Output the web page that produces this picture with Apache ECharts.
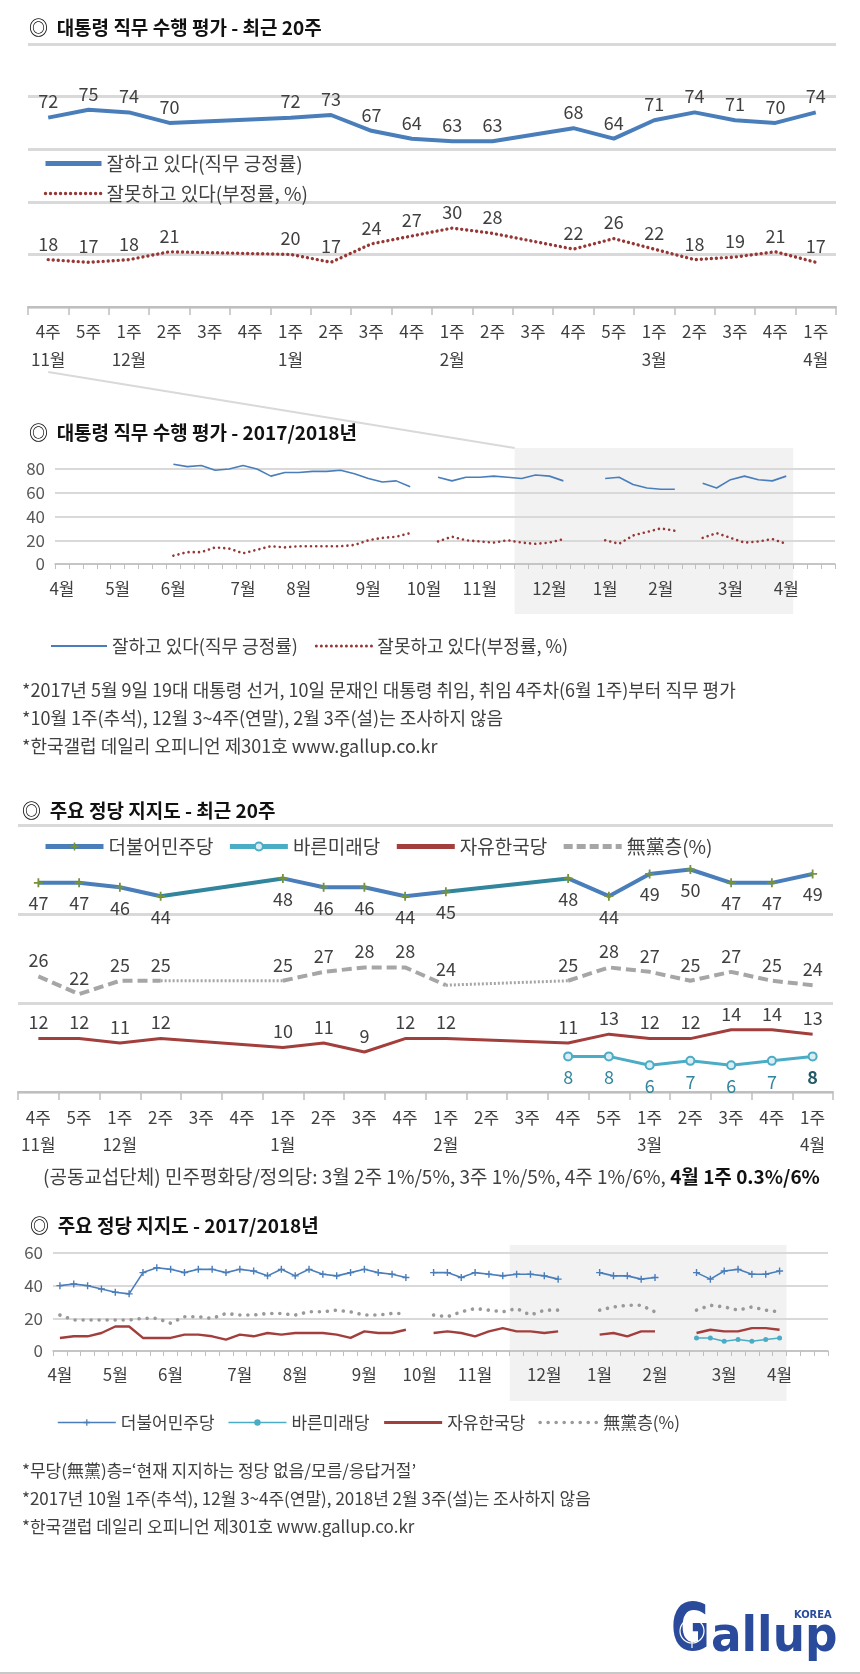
<!DOCTYPE html>
<html><head><meta charset="utf-8">
<script src="https://cdn.jsdelivr.net/npm/echarts@6/dist/echarts.min.js"></script>
<style>html,body{margin:0;padding:0;background:#fff}#c{width:860px;height:1674px}</style>
</head><body><div id="c"></div>
<script>
const N = null;
// ---------- recent 20 weeks (charts 1 & 3) ----------
const recentWeeks  = ['4주','5주','1주','2주','3주','4주','1주','2주','3주','4주','1주','2주','3주','4주','5주','1주','2주','3주','4주','1주'];
const recentMonths = ['11월','','12월','','','','1월','','','','2월','','','','','3월','','','','4월'];
const approveRecent    = [72,75,74,70,N,N,72,73,67,64,63,63,N,68,64,71,74,71,70,74];
const disapproveRecent = [18,17,18,21,N,N,20,17,24,27,30,28,N,22,26,22,18,19,21,17];
const minjuRecent   = [47,47,46,44,N,N,48,46,46,44,45,N,N,48,44,49,50,47,47,49];
const bareunRecent  = [N,N,N,N,N,N,N,N,N,N,N,N,N,8,8,6,7,6,7,8];
const jayuRecent    = [12,12,11,12,N,N,10,11,9,12,12,N,N,11,13,12,12,14,14,13];
const noPartyRecent = [26,22,25,25,N,N,25,27,28,28,24,N,N,25,28,27,25,27,25,24];

// ---------- 2017/2018 weekly (charts 2 & 4) ----------
const longMonths = ['4월','5월','6월','7월','8월','9월','10월','11월','12월','1월','2월','3월','4월'];
const longWeeksPerMonth = [4,4,5,4,5,4,4,5,4,4,5,4,4];
const approveLong = [N,N,N,N,N,N,N,N, 84,82,83,79,80,83,80,74,77,77,78,78,79,76,72,69,70,65, N,
  73,70,73,73,74,73,72,75,74,70, N,N, 72,73,67,64,63,63, N, 68,64,71,74,71,70,74, N,N,N];
const disapproveLong = [N,N,N,N,N,N,N,N, 7,10,10,14,13,9,12,15,14,15,15,15,15,16,20,22,23,26, N,
  19,23,20,19,18,20,18,17,18,21, N,N, 20,17,24,27,30,28, N, 22,26,22,18,19,21,17, N,N,N];
const minjuLong = [40,41,40,38,36,35,48,51,50,48,50,50,48,50,49,46,50,46,50,47,46,48,50,48,47,45, N,
  48,48,45,48,47,46,47,47,46,44, N,N, 48,46,46,44,45, N,N, 48,44,49,50,47,47,49, N,N,N];
const jayuLong = [8,9,9,11,15,15,8,8,8,10,10,9,7,10,9,11,10,11,11,11,10,8,12,11,11,13, N,
  11,12,11,9,12,14,12,12,11,12, N,N, 10,11,9,12,12, N,N, 11,13,12,12,14,14,13, N,N,N];
const noPartyLong = [22,19,19,19,19,19,20,20,17,21,21,20,23,22,22,23,23,22,24,24,25,24,22,22,23,23, N,
  22,21,24,26,25,24,26,22,25,25, N,N, 25,27,28,28,24, N,N, 25,28,27,25,27,25,24, N,N,N];
const bareunLong = [N,N,N,N,N,N,N,N,N,N,N,N,N,N,N,N,N,N,N,N,N,N,N,N,N,N,N,N,N,N,N,N,N,N,N,N,N,N,N,N,N,N,N,N,N,N,
  8,8,6,7,6,7,8, N,N,N];

const NAME_A = '잘하고 있다(직무 긍정률)', NAME_D = '잘못하고 있다(부정률, %)';
const NAME_M = '더불어민주당', NAME_B = '바른미래당', NAME_J = '자유한국당', NAME_U = '無黨층(%)';

const FONT = '"Noto Sans CJK KR","Noto Sans",sans-serif';
const LOGOFONT = '"DejaVu Sans Condensed","DejaVu Sans",sans-serif';
const TXT = '#404040';
const BLUE = '#4a7ebb', RED = '#953735', TEAL = '#4bacc6', DRED = '#a23e3c', GRAY = '#a6a6a6';
const LOGO = '#2a4a9b';
const PLUS = 'path://M4,0H6V4H10V6H6V10H4V6H0V4H4Z';

const recentCats = recentWeeks.map((w, i) => i + ':' + recentMonths[i] + w);
const longCats = [], longLabel = [];
longMonths.forEach((m, mi) => {
  for (let w = 1; w <= longWeeksPerMonth[mi]; w++) {
    longCats.push((mi < 9 ? '2017 ' : '2018 ') + m + ' ' + w + '주');
    longLabel.push(w === 1 ? m : '');
  }
});

function gapSeries(arr, base) {
  const out = [];
  let i = 0;
  while (i < arr.length) {
    if (arr[i] == null) {
      const s = i;
      while (i < arr.length && arr[i] == null) i++;
      if (s > 0 && i < arr.length) {
        const d = arr.map((v, k) => (k === s - 1 || k === i) ? v : null);
        out.push(Object.assign({ type: 'line', data: d, connectNulls: true, symbol: 'none', silent: true, z: 1 }, base));
      }
    } else i++;
  }
  return out;
}

const lbl = (pos, extra) => Object.assign({ show: true, position: pos, distance: 6, color: TXT, fontSize: 18 }, extra || {});
const hidden = { symbol: 'circle', symbolSize: 2, itemStyle: { color: 'rgba(0,0,0,0)' } };

const recentAxis = (grid, margin, lh) => ({
  type: 'category', gridIndex: grid, data: recentCats, boundaryGap: true,
  axisLine: { lineStyle: { color: '#bfbfbf', width: 2 } },
  axisTick: { show: true, interval: 0, length: 8, alignWithLabel: false, lineStyle: { color: '#bfbfbf', width: 1.5 } },
  axisLabel: { interval: 0, margin: margin, lineHeight: lh, fontSize: 17, color: TXT, hideOverlap: false,
    formatter: (v, i) => recentWeeks[i] + '\n' + (recentMonths[i] || ' ') },
  splitLine: { show: false }
});
const longAxis = (grid, margin) => ({
  type: 'category', gridIndex: grid, data: longCats, boundaryGap: true,
  axisLine: { lineStyle: { color: '#bfbfbf', width: 1.5 } },
  axisTick: { show: true, interval: 0, length: 5, alignWithLabel: false, lineStyle: { color: '#bfbfbf', width: 1 } },
  axisLabel: { interval: (i) => longLabel[i] !== '', margin: margin, fontSize: 17, color: TXT, hideOverlap: false,
    formatter: (v, i) => longLabel[i] },
  splitLine: { show: false }
});
const valAxis = (grid, max, show, w) => ({
  type: 'value', gridIndex: grid, min: 0, max: max, interval: 20,
  axisLine: { show: false }, axisTick: { show: false },
  axisLabel: { show: show, fontSize: 17, color: '#595959', margin: 10 },
  splitLine: { show: true, lineStyle: { color: '#d9d9d9', width: w } }
});

const series = [
  // chart 1
  Object.assign({ type: 'line', name: NAME_A, xAxisIndex: 0, yAxisIndex: 0, data: approveRecent, connectNulls: true,
    lineStyle: { color: BLUE, width: 4 }, label: lbl('top'), z: 3 }, hidden),
  Object.assign({ type: 'line', name: NAME_D, xAxisIndex: 0, yAxisIndex: 0, data: disapproveRecent, connectNulls: true,
    lineStyle: { color: RED, width: 3.4, type: [0.01, 5], cap: 'round' }, label: lbl('top'), z: 3 }, hidden),
  // chart 2
  { type: 'line', name: NAME_A, xAxisIndex: 1, yAxisIndex: 1, data: approveLong, connectNulls: false, symbol: 'none', clip: false,
    lineStyle: { color: BLUE, width: 1.6 } },
  { type: 'line', name: NAME_D, xAxisIndex: 1, yAxisIndex: 1, data: disapproveLong, connectNulls: false, symbol: 'none', clip: false,
    lineStyle: { color: RED, width: 2.6, type: [0.01, 5.2], cap: 'round' } },
  // chart 3
  { type: 'line', name: NAME_M, xAxisIndex: 2, yAxisIndex: 2, data: minjuRecent, connectNulls: false,
    symbol: PLUS, symbolSize: 9, itemStyle: { color: '#77933c' },
    lineStyle: { color: BLUE, width: 4 }, label: lbl('bottom', { distance: 7 }), z: 4 },
  { type: 'line', name: NAME_B, xAxisIndex: 2, yAxisIndex: 2,
    data: bareunRecent.map((v, i) => i === bareunRecent.length - 1 ? { value: v, label: { fontWeight: 'bold', color: '#215968' } } : v),
    connectNulls: false, symbol: 'circle', symbolSize: 8,
    itemStyle: { color: '#dbeef4', borderColor: TEAL, borderWidth: 2 },
    lineStyle: { color: TEAL, width: 3 }, label: lbl('bottom', { distance: 7, color: '#31859c' }), z: 4 },
  Object.assign({ type: 'line', name: NAME_J, xAxisIndex: 2, yAxisIndex: 2, data: jayuRecent, connectNulls: true,
    lineStyle: { color: DRED, width: 3 }, label: lbl('top'), z: 3 }, hidden),
  Object.assign({ type: 'line', name: NAME_U, xAxisIndex: 2, yAxisIndex: 2, data: noPartyRecent, connectNulls: false,
    lineStyle: { color: GRAY, width: 4, type: [10, 5] }, label: lbl('top'), z: 3 }, hidden),
  ...gapSeries(minjuRecent, { name: NAME_M, xAxisIndex: 2, yAxisIndex: 2, lineStyle: { color: '#31859c', width: 4 } }),
  ...gapSeries(noPartyRecent, { name: NAME_U, xAxisIndex: 2, yAxisIndex: 2, lineStyle: { color: GRAY, width: 3, type: [2, 2] } }),
  // chart 4
  { type: 'line', name: NAME_M, xAxisIndex: 3, yAxisIndex: 3, data: minjuLong, connectNulls: false,
    symbol: PLUS, symbolSize: 7, itemStyle: { color: BLUE }, lineStyle: { color: BLUE, width: 1.6 }, z: 4 },
  { type: 'line', name: NAME_B, xAxisIndex: 3, yAxisIndex: 3, data: bareunLong, connectNulls: false,
    symbol: 'circle', symbolSize: 5, itemStyle: { color: TEAL }, lineStyle: { color: TEAL, width: 1.6 }, z: 4 },
  { type: 'line', name: NAME_J, xAxisIndex: 3, yAxisIndex: 3, data: jayuLong, connectNulls: false,
    symbol: 'none', lineStyle: { color: DRED, width: 2.4 } },
  { type: 'line', name: NAME_U, xAxisIndex: 3, yAxisIndex: 3, data: noPartyLong, connectNulls: false,
    symbol: 'none', lineStyle: { color: '#999999', width: 3.6, type: [0.01, 8], cap: 'round' } }
];

const titleStyle = { fontSize: 19, fontWeight: 'bold', color: '#111' };
const note = (id, x, y, text, size) => ({ type: 'text', id: id, x: x, y: y, z: 10,
  style: { text: text, verticalAlign: 'middle', fontSize: size, fill: TXT, fontFamily: FONT } });

const option = {
  animation: false,
  backgroundColor: '#fff',
  textStyle: { fontFamily: FONT },
  title: [
    { text: '◎  대통령 직무 수행 평가 - 최근 20주', left: 24, top: 13, textStyle: titleStyle },
    { text: '◎  대통령 직무 수행 평가 - 2017/2018년', left: 24, top: 418, textStyle: titleStyle },
    { text: '◎  주요 정당 지지도 - 최근 20주', left: 17, top: 796, textStyle: titleStyle },
    { text: '◎  주요 정당 지지도 - 2017/2018년', left: 25, top: 1211, textStyle: titleStyle }
  ],
  legend: [
    { orient: 'vertical', left: 38, top: 149, itemWidth: 56, itemHeight: 10, itemGap: 11,
      textStyle: { fontSize: 19, color: TXT },
      data: [{ name: NAME_A, lineStyle: { width: 5, color: BLUE } },
             { name: NAME_D, lineStyle: { width: 3.4, color: RED, type: [0.01, 5], cap: 'round' } }] },
    { orient: 'horizontal', left: 45, top: 632, itemWidth: 56, itemHeight: 10, itemGap: 17,
      textStyle: { fontSize: 18, color: TXT },
      data: [{ name: NAME_A, lineStyle: { width: 2, color: BLUE } },
             { name: NAME_D, lineStyle: { width: 3, color: RED, type: [0.01, 5], cap: 'round' } }] },
    { orient: 'horizontal', left: 38, top: 832, itemWidth: 58, itemHeight: 10, itemGap: 14,
      textStyle: { fontSize: 19, color: TXT },
      data: [{ name: NAME_M, lineStyle: { width: 5, color: BLUE } },
             { name: NAME_B, lineStyle: { width: 5, color: TEAL } },
             { name: NAME_J, lineStyle: { width: 5, color: DRED } },
             { name: NAME_U, lineStyle: { width: 5, color: GRAY, type: [9, 4] } }] },
    { orient: 'horizontal', left: 52, top: 1409, itemWidth: 58, itemHeight: 8, itemGap: 13,
      textStyle: { fontSize: 17, color: TXT },
      data: [{ name: NAME_M, lineStyle: { width: 1.6, color: BLUE }, itemStyle: { color: BLUE } },
             { name: NAME_B, lineStyle: { width: 1.6, color: TEAL }, itemStyle: { color: TEAL, borderWidth: 0 } },
             { name: NAME_J, lineStyle: { width: 3, color: DRED } },
             { name: NAME_U, lineStyle: { width: 3.6, color: '#999999', type: [0.01, 8], cap: 'round' } }] }
  ],
  grid: [
    { left: 28, right: 24, top: 44, bottom: 1674 - 307, containLabel: false, outerBoundsMode: 'none' },
    { left: 55, right: 25, top: 469, bottom: 1674 - 564, containLabel: false, outerBoundsMode: 'none' },
    { left: 18, right: 27, top: 825, bottom: 1674 - 1092, containLabel: false, outerBoundsMode: 'none' },
    { left: 53, right: 32, top: 1253, bottom: 1674 - 1351, containLabel: false, outerBoundsMode: 'none' }
  ],
  xAxis: [recentAxis(0, 11, 28), longAxis(1, 16), recentAxis(2, 12, 27), longAxis(3, 15)],
  yAxis: [valAxis(0, 100, false, 3), valAxis(1, 80, true, 2), valAxis(2, 60, false, 3), valAxis(3, 60, true, 2)],
  series: series,
  graphic: { elements: [
    note('n1', 22, 690, '*2017년 5월 9일 19대 대통령 선거, 10일 문재인 대통령 취임, 취임 4주차(6월 1주)부터 직무 평가', 18),
    note('n2', 22, 718, '*10월 1주(추석), 12월 3~4주(연말), 2월 3주(설)는 조사하지 않음', 18),
    note('n3', 22, 746, '*한국갤럽 데일리 오피니언 제301호 www.gallup.co.kr', 18),
    { type: 'text', id: 'n4', x: 43, y: 1177, z: 10, style: { text: '{r|(공동교섭단체) 민주평화당/정의당: 3월 2주 1%/5%, 3주 1%/5%, 4주 1%/6%, }{b|4월 1주 0.3%/6%}',
      verticalAlign: 'middle', fontFamily: FONT, fontSize: 19, fill: TXT,
      rich: { r: { fontSize: 19, fill: TXT, fontFamily: FONT }, b: { fontSize: 19, fontWeight: 'bold', fill: '#111', fontFamily: FONT } } } },
    note('n5', 22, 1471, '*무당(無黨)층=‘현재 지지하는 정당 없음/모름/응답거절’', 17),
    note('n6', 22, 1499, '*2017년 10월 1주(추석), 12월 3~4주(연말), 2018년 2월 3주(설)는 조사하지 않음', 17),
    note('n7', 22, 1527, '*한국갤럽 데일리 오피니언 제301호 www.gallup.co.kr', 17),
    // logo
    { type: 'text', id: 'logoG', x: 671, y: 1633, z: 10, scaleX: 0.8,
      style: { text: 'G', fontFamily: LOGOFONT, fontWeight: 'bold', fontSize: 66, fill: LOGO, verticalAlign: 'middle' } },
    { type: 'circle', id: 'globe', z: 11, shape: { cx: 692, cy: 1631, r: 12 }, style: { fill: 'none', stroke: '#fff', lineWidth: 1.2 } },
    { type: 'line', id: 'globeV', z: 11, shape: { x1: 692, y1: 1615, x2: 692, y2: 1648 }, style: { stroke: '#fff', lineWidth: 1.2 } },
    { type: 'text', id: 'logoRest', x: 711, y: 1639, z: 10, scaleX: 1.05,
      style: { text: 'allup', fontFamily: LOGOFONT, fontWeight: 'bold', fontSize: 48, fill: LOGO, verticalAlign: 'middle' } },
    { type: 'text', id: 'korea', x: 794, y: 1615, z: 10,
      style: { text: 'KOREA', fontFamily: LOGOFONT, fontWeight: 'bold', fontSize: 11, fill: LOGO, verticalAlign: 'middle' } },
    { type: 'line', id: 'bottomline', z: 10, shape: { x1: 0, y1: 1673, x2: 860, y2: 1673 }, style: { stroke: '#c8c8c8', lineWidth: 2 } }
  ] }
};

const chart = echarts.init(document.getElementById('c'), null, { renderer: 'canvas', width: 860, height: 1674 });
chart.setOption(option);

// zoom-window boxes (the 20-week window, categories 33..52) derived from the category axes
function windowBox(axisIdx, firstIdx, lastIdx, yTop, yBottom, id) {
  const a = chart.convertToPixel({ xAxisIndex: axisIdx }, firstIdx);
  const b = chart.convertToPixel({ xAxisIndex: axisIdx }, firstIdx + 1);
  const c = chart.convertToPixel({ xAxisIndex: axisIdx }, lastIdx);
  const half = (b - a) / 2;
  return { type: 'rect', id: id, z: -100, silent: true,
    shape: { x: a - half, y: yTop, width: (c + half) - (a - half), height: yBottom - yTop },
    style: { fill: '#f2f2f2' } };
}
const box2 = windowBox(1, 33, 52, 448, 614, 'box2');
const box4 = windowBox(3, 33, 52, 1245, 1401, 'box4');
const startX = chart.convertToPixel({ xAxisIndex: 0 }, 0);
chart.setOption({ graphic: { elements: [
  box2, box4,
  { type: 'line', id: 'connector', z: -99, silent: true,
    shape: { x1: startX, y1: 372, x2: box2.shape.x, y2: box2.shape.y }, style: { stroke: '#d9d9d9', lineWidth: 2 } }
] } });
</script>
</body></html>
